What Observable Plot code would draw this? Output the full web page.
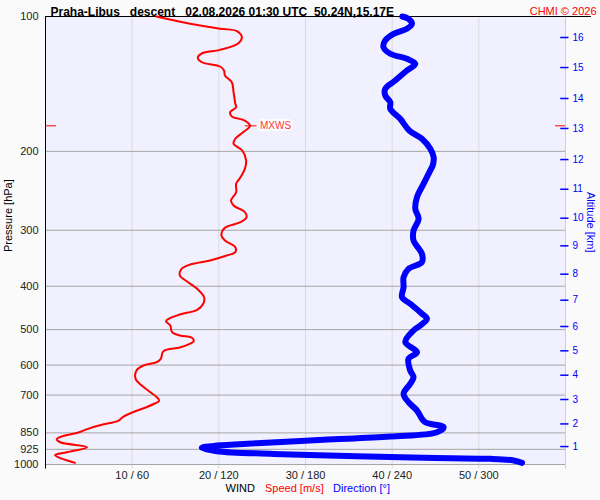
<!DOCTYPE html>
<html>
<head>
<meta charset="utf-8">
<script src="https://cdn.jsdelivr.net/npm/d3@7"></script>
<script src="https://cdn.jsdelivr.net/npm/@observablehq/plot@0.6"></script>
<style>
  html, body { margin: 0; padding: 0; background: #fafafa; }
</style>
</head>
<body>
<div id="chart"></div>
<script>
// Pressure axis (hPa)
const pTicks = [100, 200, 300, 400, 500, 600, 700, 850, 925, 1000];
const gridP = [200, 300, 400, 500, 600, 700, 850, 925, 1000];
// Wind axis: speed m/s / direction deg
const xTickVals = [10, 20, 30, 40, 50];
const xTickLabels = ["10 / 60", "20 / 120", "30 / 180", "40 / 240", "50 / 300"];
// Altitude ticks (km) and the pressure level where each sits
const altKm = [1, 2, 3, 4, 5, 6, 7, 8, 9, 10, 11, 12, 13, 14, 15, 16];
const altP = [911.9, 811.7, 716, 632, 557.5, 492, 429.8, 376, 325, 282, 243, 208.6, 177.8, 152.4, 130, 111.4];

// Wind speed profile [m/s]
const speedP = [100, 103.8, 106.5, 107.8, 111.2, 114.7, 118.7, 120.8, 123.6, 126.5, 129.3, 132.0, 135.4, 140.2, 147.6, 156.6, 159.4, 163.6, 167.2, 170.7, 175.4, 181.3, 187.5, 192.4, 199.1, 209.6, 218.8, 228.5, 236.3, 246.7, 257.4, 264.1, 273.4, 280.5, 287.8, 296.2, 308.1, 316.2, 327.3, 335.8, 341.6, 350.5, 357.8, 365.8, 378.6, 389.9, 405.4, 423.2, 437.8, 451.5, 462.6, 472.9, 478.7, 489.4, 506.6, 515.3, 521.4, 530.6, 539.6, 548.1, 558.6, 580.9, 591.2, 601.2, 616.9, 643.9, 666.4, 689.7, 712.4, 721.6, 730.9, 744.2, 764.4, 781.5, 800.5, 814.3, 832.5, 850.7, 861.7, 877.4, 891.9, 915.1, 938.9, 952.5, 967.4, 988.3, 991.4];
const speedV = [12.8, 16.7, 20.15, 22.08, 22.66, 22.26, 20.15, 18.04, 17.57, 18.04, 20.15, 20.6, 20.7, 21.5, 21.7, 21.9, 22.0, 21.3, 21.5, 23.0, 23.6, 22.8, 21.9, 21.7, 22.7, 23.15, 23.0, 22.5, 22.0, 22.0, 21.4, 21.7, 23.0, 23.2, 22.5, 20.7, 20.3, 20.7, 21.9, 21.9, 20.9, 19.0, 16.7, 15.7, 15.5, 16.3, 17.5, 18.3, 18.2, 17.5, 15.5, 14.2, 13.9, 14.4, 14.6, 15.5, 16.9, 17.1, 16.5, 15.5, 13.6, 13.3, 12.8, 11.3, 10.5, 10.4, 11.1, 12.1, 13.0, 13.1, 12.6, 11.7, 10.1, 9.0, 8.3, 6.6, 4.9, 3.6, 2.25, 1.3, 1.7, 4.8, 2.45, 1.1, 1.7, 3.2, 3.4];

// Wind direction profile [deg]
const dirP = [100, 101.2, 103.8, 106.5, 109.3, 113.1, 117.1, 121.1, 124.3, 127.5, 132.0, 139.0, 145.0, 150.1, 155.4, 160.7, 169.2, 179.6, 187.5, 197.4, 206.1, 215.0, 220.6, 236.3, 253.1, 268.7, 282.8, 300.4, 316.2, 338.6, 353.5, 365.8, 381.9, 402.1, 423.2, 437.8, 460.8, 472.9, 489.4, 502.2, 533.3, 561.5, 580.9, 616.9, 638.6, 660.5, 695.5, 726.0, 757.8, 790.7, 804.6, 811.3, 825.5, 847.0, 866.0, 880.9, 896.4, 907.3, 918.1, 934.2, 947.0, 958.5, 966.2, 971.2, 979.7, 991.4];
const dirV = [247, 251.3, 253.7, 250.2, 241, 235.2, 234, 238.7, 250.2, 256, 250.2, 242.1, 235.2, 235.2, 238.7, 238.7, 245.6, 251.8, 260.6, 266.4, 268.7, 268.1, 266.4, 261.7, 257.2, 256, 258.3, 254.8, 254.8, 260.6, 260.6, 251.3, 247.9, 247.9, 246.8, 252.5, 260.6, 264.1, 259.5, 254.8, 249.1, 257.2, 251.3, 252.5, 254.8, 252.5, 247.9, 251.3, 257.2, 260.6, 262.9, 266.4, 275.6, 271, 238.7, 192.5, 146.3, 118.6, 108.2, 118.6, 157.8, 215.6, 261.7, 308, 324.1, 329.9];

// Max wind
const mxwsP = 175.4;
const mxwsV = 23.6;

const titleText = "Praha-Libus\u00a0\u00a0\u00a0descent\u00a0\u00a0\u00a002.08.2026 01:30 UTC\u00a0\u00a050.24N,15.17E";

const speedRows = speedP.map((p, i) => ({p, v: speedV[i]}));
const dirRows = dirP.map((p, i) => ({p, d: dirV[i]}));
const xTicks = xTickVals.map((v, i) => ({v, label: xTickLabels[i]}));
const altTicks = altKm.map((k, i) => ({k, p: altP[i]}));

const font = "'Liberation Sans', Arial, sans-serif";

const chart = Plot.plot({
  width: 600,
  height: 500,
  marginLeft: 45,
  marginRight: 35,
  marginTop: 16,
  marginBottom: 36,
  style: {fontFamily: font, fontSize: "11px", background: "#fafafa", overflow: "visible"},
  x: {domain: [0, 60], axis: null},
  y: {type: "log", domain: [1000, 100], axis: null},
  marks: [
    Plot.frame({fill: "#f0f0fe", stroke: null}),
    Plot.ruleX(xTickVals, {y1: 100, y2: 1024, stroke: "#d9d9d9", strokeWidth: 1}),
    Plot.ruleY(gridP, {x1: 0, x2: 60, stroke: "#a6a6a6", strokeWidth: 1}),
    Plot.ruleX([60], {y1: 100, y2: 1024, stroke: "#d0d0d0", strokeWidth: 1}),
    Plot.ruleX([0], {y1: 100, y2: 1024, stroke: "#000", strokeWidth: 1}),
    Plot.ruleY([100], {x1: 0, x2: 63, stroke: "#000", strokeWidth: 1.2}),
    // altitude ticks
    Plot.ruleY(altTicks, {y: "p", x1: 59.45, x2: 60.4, stroke: "#0000ff", strokeWidth: 1.5}),
    Plot.text(altTicks, {y: "p", x: 60, text: d => String(d.k), dx: 7, textAnchor: "start", fill: "#0000ff", fontSize: 10}),
    // pressure labels
    Plot.text(pTicks, {y: d => d, x: 0, text: d => String(d), dx: -7, textAnchor: "end", fill: "#222", fontSize: 11}),
    // bottom labels
    Plot.text(xTicks, {x: "v", text: "label", frameAnchor: "bottom", dy: 14, fill: "#222", fontSize: 11}),
    // lines
    Plot.line(dirRows, {x: d => d.d / 6, y: "p", stroke: "#0000ff", strokeWidth: 6, strokeLinecap: "round", strokeLinejoin: "round", curve: "catmull-rom"}),
    Plot.line(speedRows, {x: "v", y: "p", stroke: "#ff0000", strokeWidth: 2, strokeLinejoin: "round", curve: "catmull-rom"}),
    // MXWS markers
    Plot.ruleY([mxwsP], {x1: 0, x2: 1.27, stroke: "#ff0000", strokeWidth: 1}),
    Plot.ruleY([mxwsP], {x1: 58.85, x2: 60, stroke: "#ff0000", strokeWidth: 1}),
    Plot.ruleY([mxwsP], {x1: mxwsV - 0.55, x2: mxwsV + 0.8, stroke: "#ff0000", strokeWidth: 1}),
    Plot.text([mxwsP], {y: d => d, x: mxwsV + 0.8, dx: 3, text: () => "MXWS", textAnchor: "start", fill: "#ff3333", stroke: "#ffffff", strokeWidth: 4, paintOrder: "stroke", fontSize: 10}),
    // titles
    Plot.text([0], {frameAnchor: "top-left", dx: 5, dy: -9, text: () => titleText, textAnchor: "start", fontWeight: "bold", fontSize: 12, fill: "#000"}),
    Plot.text([0], {frameAnchor: "top-right", dx: 31, dy: -9, text: () => "CHMI \u00a9 2026", textAnchor: "end", fontSize: 11, fill: "#ff0000"}),
    Plot.text([0], {frameAnchor: "left", dx: -37, dy: 11.5, rotate: -90, text: () => "Pressure [hPa]", fontSize: 11, fill: "#000"}),
    Plot.text([0], {frameAnchor: "right", dx: 25, dy: 12, rotate: 90, text: () => "Altitude [km]", fontSize: 11, fill: "#0000ff"}),
    Plot.text([0], {frameAnchor: "bottom-left", dx: 180, dy: 27, text: () => "WIND", textAnchor: "start", fontSize: 11, fill: "#000"}),
    Plot.text([0], {frameAnchor: "bottom-left", dx: 219.5, dy: 27, text: () => "Speed [m/s]", textAnchor: "start", fontSize: 11, fill: "#ff0000"}),
    Plot.text([0], {frameAnchor: "bottom-left", dx: 287.5, dy: 27, text: () => "Direction [\u00b0]", textAnchor: "start", fontSize: 11, fill: "#0000ff"})
  ]
});
document.getElementById("chart").appendChild(chart);
</script>
</body>
</html>
